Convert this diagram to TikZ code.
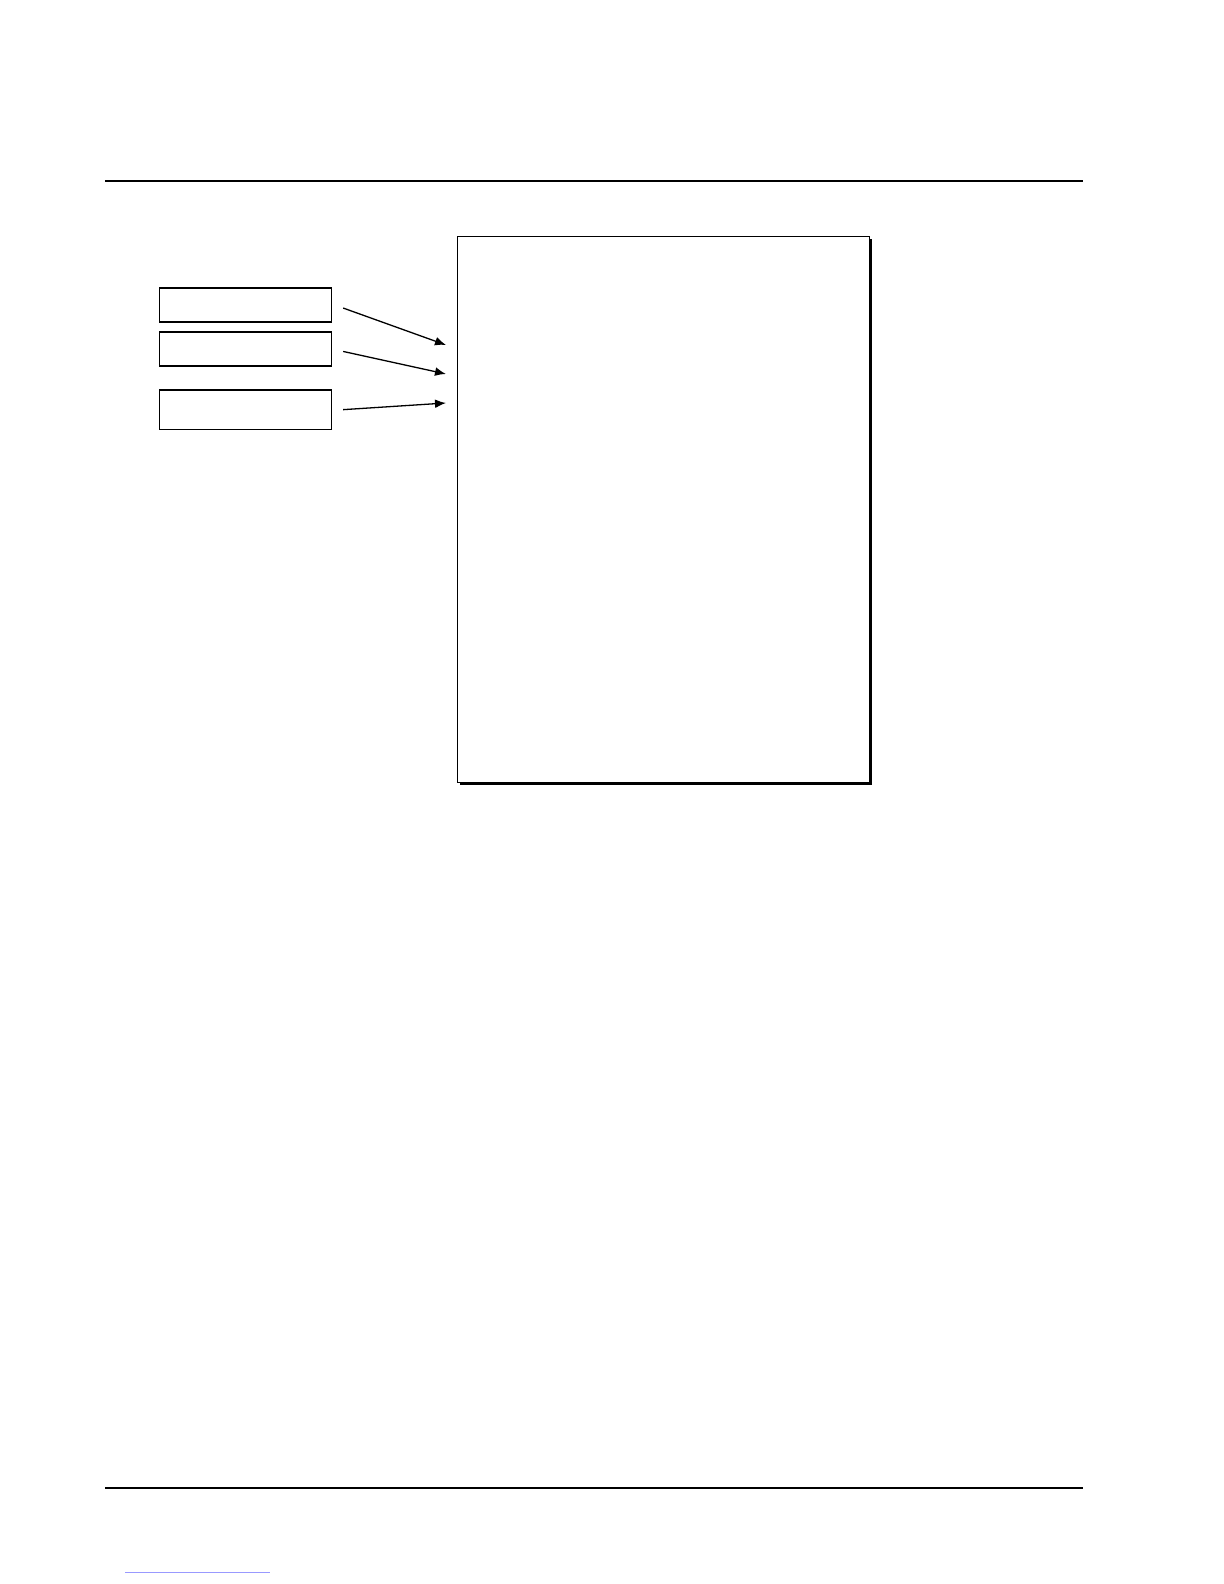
\documentclass[tikz,border=0pt]{standalone}
\usetikzlibrary{arrows.meta,shadows}
\tikzset{
  inbox/.style={draw,line width=0.85pt,minimum width=86pt,inner sep=0pt,anchor=north west},
  feed/.style={-{Latex[length=5.5pt,width=4.4pt]},line width=0.65pt},
  pagerule/.style={line width=1.2pt}
}
\begin{document}
\begin{tikzpicture}[x=0.5pt,y=-0.5pt]
  \useasboundingbox (0,0) rectangle (1224,1584);

  % page rules
  \coordinate (topL) at (105,181);
  \coordinate (topR) at (1083,181);
  \coordinate (botL) at (105,1488);
  \coordinate (botR) at (1083,1488);
  \draw[pagerule] (topL) -- (topR);
  \draw[pagerule] (botL) -- (botR);

  \coordinate (linkL) at (125,1572);
  \coordinate (linkR) at (270,1572);
  \draw[blue!40,line width=0.5pt] (linkL) -- (linkR);

  % main panel
  \node[draw,fill=white,line width=0.5pt,minimum width=206pt,minimum height=273pt,
        inner sep=0pt,anchor=north west,
        drop shadow={fill=black,opacity=1,shadow xshift=1.4pt,shadow yshift=-1.4pt}]
        (panel) at (457,235.5) {};

  % input boxes
  \node[inbox,minimum height=17pt] (srcA) at (158.5,287) {};
  \node[inbox,minimum height=17pt] (srcB) at (158.5,331) {};
  \node[inbox,minimum height=19.8pt] (srcC) at (158.5,389) {};

  \coordinate (inA) at (446,345);
  \coordinate (inB) at (446,374);
  \coordinate (inC) at (446,403);

  \draw[feed] ([xshift=5.5pt,yshift=-1.6pt]srcA.east) -- (inA);
  \draw[feed] ([xshift=5.5pt,yshift=-1.3pt]srcB.east) -- (inB);
  \draw[feed] ([xshift=5.5pt]srcC.east) -- (inC);

\end{tikzpicture}
\end{document}
